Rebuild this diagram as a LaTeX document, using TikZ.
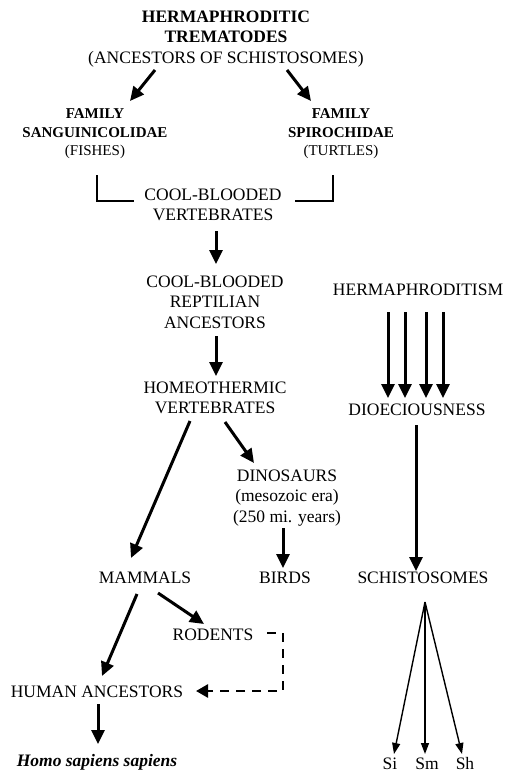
\documentclass[tikz,border=0pt]{standalone}
\usepackage{fontspec}
\setmainfont{Liberation Serif}
\usetikzlibrary{arrows.meta}
\begin{document}
\begin{tikzpicture}[x=1pt,y=-1pt,
  txt/.style={inner sep=0pt,align=center,font=\fontsize{17.5}{20.5}\selectfont},
  fam/.style={inner sep=0pt,align=center,font=\fontsize{15}{18.5}\selectfont},
  arr/.style={line width=3pt,-{Triangle[length=14pt,width=13pt]}},
  thinarr/.style={line width=1.4pt,-{Triangle[length=11pt,width=8pt]}},
  dasharr/.style={line width=2.6pt,dash pattern=on 9pt off 7pt,-{Triangle[length=12pt,width=13pt]}},
  brk/.style={line width=2.8pt}]
\useasboundingbox (0,0) rectangle (505,774);

% text nodes
\node[txt] (top) at (226,39) {\textbf{HERMAPHRODITIC}\\\textbf{TREMATODES}\\(ANCESTORS OF SCHISTOSOMES)};
\node[fam] (sang) at (95,134) {\textbf{FAMILY}\\\textbf{SANGUINICOLIDAE}\\(FISHES)};
\node[fam] (spir) at (341,134) {\textbf{FAMILY}\\\textbf{SPIROCHIDAE}\\(TURTLES)};
\node[txt] (cbv) at (213,205) {COOL-BLOODED\\VERTEBRATES};
\node[txt] (cbr) at (215,302) {COOL-BLOODED\\REPTILIAN\\ANCESTORS};
\node[txt] (hv) at (215,398) {HOMEOTHERMIC\\VERTEBRATES};
\node[txt] (herm) at (418,290) {HERMAPHRODITISM};
\node[txt] (dioe) at (417,410) {DIOECIOUSNESS};
\node[txt] (dino) at (287,498) {DINOSAURS\\(mesozoic era)\\(250 mi. years)};
\node[txt] (mamm) at (145,578) {MAMMALS};
\node[txt] (birds) at (285,578) {BIRDS};
\node[txt] (schi) at (423,578) {SCHISTOSOMES};
\node[txt] (rod) at (213,635) {RODENTS};
\node[txt] (human) at (97,692) {HUMAN ANCESTORS};
\node[txt,font=\fontsize{17.5}{20}\selectfont\bfseries\itshape] (homo) at (97,762) {Homo sapiens sapiens};
\node[txt] (si) at (390,764) {Si};
\node[txt] (sm) at (427,764) {Sm};
\node[txt] (sh) at (465,764) {Sh};

% coordinates for connector ends
\coordinate (t1) at (155,70);  \coordinate (s1) at (130,101);
\coordinate (t2) at (287,70);  \coordinate (p1) at (311,101);
\coordinate (c1) at (216,231); \coordinate (r1) at (216,264);
\coordinate (r2) at (216,336); \coordinate (h1) at (216,376);
\coordinate (h2) at (190,421); \coordinate (m1) at (131,558);
\coordinate (h3) at (225,422); \coordinate (d1) at (254,463);
\coordinate (d2) at (283,528); \coordinate (b1) at (283,568);
\coordinate (m2) at (158,593); \coordinate (ro1) at (204,624);
\coordinate (m3) at (137,594); \coordinate (hu1) at (102,676);
\coordinate (hu2) at (98,704); \coordinate (ho1) at (98,744);
\coordinate (ro2) at (267,633); \coordinate (dc) at (283,691); \coordinate (hu3) at (196,691);
\coordinate (di2) at (416,425); \coordinate (sc1) at (416,571);
\coordinate (apex) at (425,602);
\coordinate (si1) at (394,754); \coordinate (sm1) at (425,754); \coordinate (sh1) at (462,754);

% connectors
\draw[arr] (t1) -- (s1);
\draw[arr] (t2) -- (p1);
\draw[brk] (97,175) -- (97,201) -- (134,201);
\draw[brk] (295,201) -- (333,201) -- (333,175);
\draw[arr] (c1) -- (r1);
\draw[arr] (r2) -- (h1);
\foreach \x in {388,405,426,443}
  \draw[arr] (\x,312) -- (\x,398);
\draw[arr] (di2) -- (sc1);
\draw[arr] (h2) -- (m1);
\draw[arr] (h3) -- (d1);
\draw[arr] (d2) -- (b1);
\draw[arr] (m2) -- (ro1);
\draw[arr] (m3) -- (hu1);
\draw[arr] (hu2) -- (ho1);
\draw[dasharr] (ro2) -| (dc) -- (hu3);
\draw[thinarr] (apex) -- (si1);
\draw[thinarr] (apex) -- (sm1);
\draw[thinarr] (apex) -- (sh1);
\end{tikzpicture}
\end{document}
